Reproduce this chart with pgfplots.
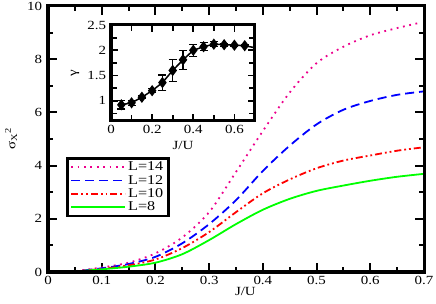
\documentclass[border=0pt]{standalone}
\usepackage{pgfplots}
\pgfplotsset{compat=1.18}
\usepackage{pgfplotstable}
\usepackage{fontspec}
\setmainfont[FakeStretch=1.2]{Liberation Serif}
\pgfplotsset{legline/.style={legend image code/.code={\draw[##1] (0bp,0bp) -- (54bp,0bp);}}}

\pgfplotstableread{
x y
0.04 0.0
0.05 0.03
0.10 0.17
0.15 0.35
0.20 0.70
0.25 1.30
0.30 2.25
0.35 3.76
0.40 5.30
0.45 6.75
0.50 7.85
0.55 8.47
0.60 8.90
0.65 9.17
0.69 9.36
}\Lfourteen
\pgfplotstableread{
x y
0.04 0.0
0.05 0.02
0.10 0.14
0.15 0.30
0.20 0.57
0.25 1.08
0.30 1.80
0.35 2.70
0.40 3.80
0.45 4.75
0.50 5.55
0.55 6.10
0.60 6.43
0.65 6.66
0.70 6.79
}\Ltwelve
\pgfplotstableread{
x y
0.04 0.0
0.05 0.02
0.10 0.12
0.15 0.25
0.20 0.47
0.25 0.90
0.30 1.50
0.35 2.25
0.40 2.96
0.45 3.48
0.50 3.90
0.55 4.19
0.60 4.38
0.65 4.56
0.70 4.69
}\Lten
\pgfplotstableread{
x y
0.04 0.0
0.05 0.02
0.10 0.10
0.15 0.20
0.20 0.35
0.25 0.67
0.30 1.20
0.35 1.80
0.40 2.34
0.45 2.75
0.50 3.05
0.55 3.25
0.60 3.43
0.65 3.58
0.70 3.69
}\Leight
\pgfplotstableread{
x y e
0.05 0.92 0.08
0.10 0.96 0.05
0.15 1.07 0.03
0.20 1.20 0.04
0.25 1.36 0.15
0.30 1.60 0.22
0.35 1.81 0.19
0.40 2.00 0.12
0.45 2.07 0.08
0.50 2.12 0.05
0.55 2.11 0.03
0.60 2.10 0.02
0.65 2.09 0.02
}\gammadata
\pgfplotstableread{
x y
0.05 0.92
0.10 0.96
0.15 1.07
0.20 1.20
0.25 1.36
0.30 1.60
0.35 1.81
0.40 2.00
0.45 2.07
0.50 2.12
0.55 2.11
0.60 2.10
0.65 2.09
0.70 2.05
}\gammaline

\begin{document}
\begin{tikzpicture}
\begin{axis}[
  name=main, at={(0,0)}, anchor=south west,
  scale only axis, width=376bp, height=266bp,
  xmin=0, xmax=0.7, ymin=0, ymax=10,
  clip=false,
  xtick={0,0.1,0.2,0.3,0.4,0.5,0.6,0.7},
  xticklabels={0,0.1,0.2,0.3,0.4,0.5,0.6,0.7},
  ytick={0,2,4,6,8,10},
  yticklabels={0,2,4,6,8,10},
  minor xtick={0.05,0.15,0.25,0.35,0.45,0.55,0.65},
  minor ytick={1,3,5,7,9},
  tick align=inside,
  major tick length=9bp, minor tick length=5bp,
  every tick/.style={black, line width=2bp},
  line width=3bp,
  axis line style={line width=3bp},
  tick label style={font=\fontsize{12.5}{14}\selectfont},
  label style={font=\fontsize{12.5}{14}\selectfont},
  xticklabel style={yshift=1bp},
  yticklabel style={xshift=-1bp},
  xlabel={J/U},
  ylabel={σ\textsubscript{X}\textsuperscript{2}},
  ylabel style={at={(axis description cs:-0.098,0.5)}, anchor=center},
  xlabel style={at={(axis description cs:0.525,-0.075)}, anchor=center},
  legend cell align=left,
  legend style={at={(axis description cs:0.048,0.432)}, anchor=north west,
    draw=black, line width=2.6bp, inner xsep=3bp, inner ysep=1.5bp,
    font=\fontsize{13.5}{15.5}\selectfont, row sep=-1bp},
]
\addplot[magenta, line width=1.8bp, smooth, dash pattern=on 1.8bp off 4.6bp, legline] table {\Lfourteen};
\addlegendentry{L=14}
\addplot[blue, line width=1.8bp, smooth, dash pattern=on 9bp off 5bp, legline] table {\Ltwelve};
\addlegendentry{L=12}
\addplot[red, line width=1.8bp, smooth, dash pattern=on 7bp off 3bp on 1.8bp off 3bp on 1.8bp off 3bp, legline] table {\Lten};
\addlegendentry{L=10}
\addplot[green, line width=1.8bp, smooth, legline] table {\Leight};
\addlegendentry{L=8}
\draw[black, line width=3bp] (rel axis cs:0,0) rectangle (rel axis cs:1,1);
\end{axis}
\begin{axis}[
  at={(63bp,151bp)}, anchor=south west,
  scale only axis, width=144bp, height=96bp,
  xmin=0, xmax=0.7, ymin=0.6, ymax=2.5,
  xtick={0,0.2,0.4,0.6}, xticklabels={0,0.2,0.4,0.6},
  ytick={1,1.5,2,2.5}, yticklabels={1,1.5,2,2.5},
  minor xtick={0.1,0.3,0.5},
  minor ytick={0.75,1.25,1.75,2.25},
  tick align=inside,
  major tick length=7bp, minor tick length=6bp,
  every tick/.style={black, line width=1.8bp},
  line width=3bp,
  axis line style={line width=3bp},
  axis background/.style={fill=white},
  tick label style={font=\fontsize{12.5}{14}\selectfont},
  label style={font=\fontsize{12.5}{14}\selectfont},
  xticklabel style={yshift=1bp},
  yticklabel style={xshift=0bp},
  xlabel={J/U}, ylabel={γ},
  xlabel style={at={(axis description cs:0.5,-0.25)}, anchor=center},
  ylabel style={at={(axis description cs:-0.25,0.5)}, anchor=center},
]
\addplot[black, line width=1.5bp] table {\gammaline};
\addplot[black, only marks, mark=diamond*, mark size=3.2bp,
  error bars/.cd, y dir=both, y explicit,
  error bar style={line width=1.3bp},
  error mark options={rotate=90, mark size=4bp, line width=1.3bp}]
  table[y error=e] {\gammadata};
\end{axis}
\pgfresetboundingbox
\path (-48bp,-32bp) rectangle (388bp,272bp);
\end{tikzpicture}
\end{document}
